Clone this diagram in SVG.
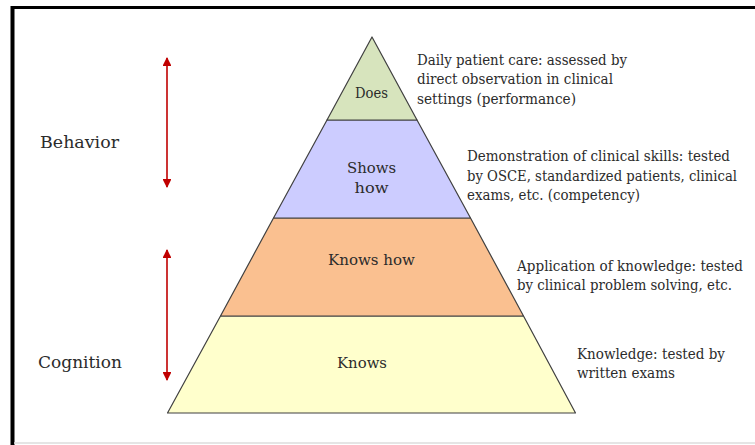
<svg xmlns="http://www.w3.org/2000/svg" width="755" height="445" viewBox="0 0 755 445">
<defs>
<marker id="ah" viewBox="0 0 10 10" refX="9" refY="5" markerWidth="5.5" markerHeight="5.5" orient="auto-start-reverse">
<path d="M0,0 L10,5 L0,10 z" fill="#c00000"/>
</marker>
<style>
.t{font-family:"DejaVu Serif","Liberation Serif",serif;fill:#2b2b2b;}
.s{font-size:14px;}
.p{font-size:15.5px;text-anchor:middle;}
.l{font-size:17.5px;}
.band{stroke:#404040;stroke-width:1.2;stroke-linejoin:round;}
.arr{stroke:#c00000;stroke-width:1.6;fill:none;marker-start:url(#ah);marker-end:url(#ah);}
</style>
</defs>
<rect x="0" y="0" width="755" height="445" fill="#ffffff"/>
<g id="frame">
<line x1="11" y1="7.5" x2="755" y2="7.5" stroke="#000" stroke-width="3"/>
<line x1="12.5" y1="6" x2="12.5" y2="445" stroke="#000" stroke-width="4"/>
<line x1="14" y1="443" x2="755" y2="443" stroke="#dcdcdc" stroke-width="1.5"/>
</g>
<g id="knows">
<polygon class="band" points="220.5,316 523.5,316 575.5,413 167.5,413" fill="#ffffcc"/>
<text class="t p" x="362" y="367.5" textLength="50" lengthAdjust="spacingAndGlyphs">Knows</text>
</g>
<g id="knows-how">
<polygon class="band" points="273.5,218 470.5,218 523.5,316 220.5,316" fill="#fac090"/>
<text class="t p" x="371.5" y="264.5" textLength="87" lengthAdjust="spacingAndGlyphs">Knows how</text>
</g>
<g id="shows-how">
<polygon class="band" points="327,120 417,120 470.5,218 273.5,218" fill="#ccccff"/>
<text class="t p" x="371.5" y="173" textLength="49" lengthAdjust="spacingAndGlyphs">Shows</text>
<text class="t p" x="371.5" y="193" textLength="34" lengthAdjust="spacingAndGlyphs">how</text>
</g>
<g id="does">
<polygon class="band" points="372,37 417,120 327,120" fill="#d7e4bd"/>
<text class="t p" x="371.5" y="98" textLength="33" lengthAdjust="spacingAndGlyphs">Does</text>
</g>
<g id="desc-does">
<text class="t s" x="417" y="64.5" textLength="210" lengthAdjust="spacingAndGlyphs">Daily patient care: assessed by</text>
<text class="t s" x="417" y="84" textLength="196" lengthAdjust="spacingAndGlyphs">direct observation in clinical</text>
<text class="t s" x="417" y="103.5" textLength="159" lengthAdjust="spacingAndGlyphs">settings (performance)</text>
</g>
<g id="desc-shows">
<text class="t s" x="467" y="161" textLength="263" lengthAdjust="spacingAndGlyphs">Demonstration of clinical skills: tested</text>
<text class="t s" x="467" y="180.5" textLength="270" lengthAdjust="spacingAndGlyphs">by OSCE, standardized patients, clinical</text>
<text class="t s" x="467" y="200" textLength="173" lengthAdjust="spacingAndGlyphs">exams, etc. (competency)</text>
</g>
<g id="desc-knows-how">
<text class="t s" x="517" y="270.5" textLength="226" lengthAdjust="spacingAndGlyphs">Application of knowledge: tested</text>
<text class="t s" x="517" y="290" textLength="215" lengthAdjust="spacingAndGlyphs">by clinical problem solving, etc.</text>
</g>
<g id="desc-knows">
<text class="t s" x="577" y="358.5" textLength="148" lengthAdjust="spacingAndGlyphs">Knowledge: tested by</text>
<text class="t s" x="577" y="377.5" textLength="98" lengthAdjust="spacingAndGlyphs">written exams</text>
</g>
<g id="behavior">
<text class="t l" x="40" y="147.5" textLength="79" lengthAdjust="spacingAndGlyphs">Behavior</text>
</g>
<g id="cognition">
<text class="t l" x="38" y="367.5" textLength="84" lengthAdjust="spacingAndGlyphs">Cognition</text>
</g>
<g id="connectors">
<line class="arr" x1="167" y1="58" x2="167" y2="187"/>
<line class="arr" x1="167" y1="250" x2="167" y2="380"/>
</g>
</svg>
